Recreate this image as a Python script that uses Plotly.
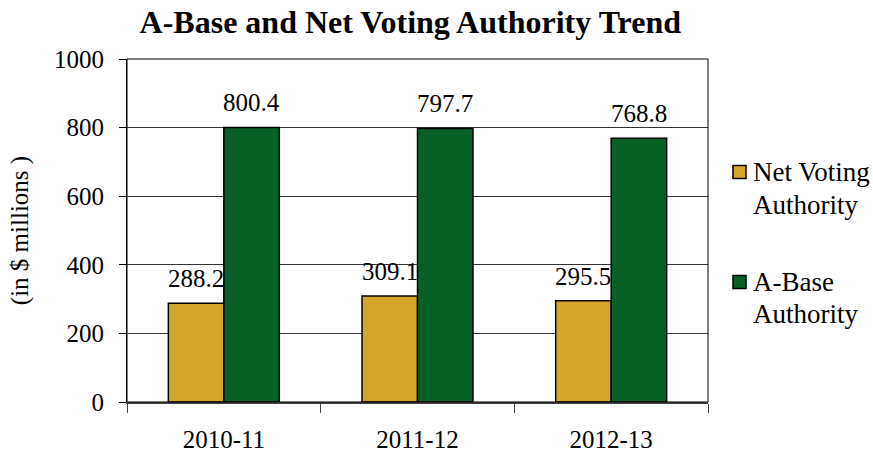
import plotly.graph_objects as go

years = ["2010-11", "2011-12", "2012-13"]
net_voting = [288.2, 309.1, 295.5]
a_base = [800.4, 797.7, 768.8]
y_ticks = [0, 200, 400, 600, 800, 1000]
series_names = [["Net Voting", "Authority"], ["A-Base", "Authority"]]

FONT = "Liberation Serif"
GOLD = "#D5A52A"
GREEN = "#076126"
COLORS = [GOLD, GREEN]

PLOT_L, PLOT_R, PLOT_T, PLOT_B = 127, 708, 59, 402
W, H = 873, 453


def px_x(px):
    return (px - PLOT_L) / (PLOT_R - PLOT_L)


def px_y(py):
    return (PLOT_B - py) / (PLOT_B - PLOT_T)


fig = go.Figure()
for vals, color, names in zip((net_voting, a_base), COLORS, series_names):
    fig.add_trace(go.Bar(
        x=years, y=vals, name=" ".join(names),
        marker=dict(color=color, line=dict(color="black", width=1.5)),
        showlegend=False,
    ))

# value labels above each bar
for i, yr in enumerate(years):
    for off, val in ((-0.143, net_voting[i]), (0.143, a_base[i])):
        fig.add_annotation(
            x=i + off, y=val, xref="x", yref="y",
            text=f"{val:.1f}", showarrow=False,
            yanchor="bottom", yshift=9,
            font=dict(family=FONT, size=25, color="black"),
        )

# legend: swatch plus two text lines per series
legend_rows = [(172, 205), (282, 314)]
for (y1, y2), color, names in zip(legend_rows, COLORS, series_names):
    fig.add_shape(type="rect", xref="paper", yref="paper",
                  x0=px_x(733), x1=px_x(746), y0=px_y(y1 - 6.5), y1=px_y(y1 + 6.5),
                  fillcolor=color, line=dict(color="black", width=1.5))
    for yy, line in zip((y1, y2), names):
        fig.add_annotation(x=px_x(751), y=px_y(yy), xref="paper", yref="paper",
                           text=line, showarrow=False, xanchor="left", yanchor="middle",
                           font=dict(family=FONT, size=27, color="black"))

# plot frame
fig.add_shape(type="rect", xref="paper", yref="paper", x0=0, y0=0, x1=1, y1=1,
              line=dict(color="black", width=1), layer="above")

fig.update_layout(
    width=W, height=H,
    margin=dict(l=PLOT_L, r=W - PLOT_R, t=PLOT_T, b=H - PLOT_B, autoexpand=False),
    paper_bgcolor="white", plot_bgcolor="white",
    font=dict(family=FONT, size=25, color="black"),
    title=dict(text="<b>A-Base and Net Voting Authority Trend</b>",
               x=0.47, xanchor="center", y=0.952, yanchor="middle",
               font=dict(family=FONT, size=32, color="black")),
    barmode="group", bargap=0.427, bargroupgap=0,
    showlegend=False,
    xaxis=dict(
        type="category", automargin=False,
        tickson="boundaries", ticks="outside", ticklen=9, tickcolor="#444",
        showline=True, linecolor="#444", linewidth=2,
        ticklabelstandoff=14,
        tickfont=dict(family=FONT, size=25),
        showgrid=False,
    ),
    yaxis=dict(
        range=[0, 1000], tickvals=y_ticks, automargin=False,
        ticks="outside", ticklen=7, tickcolor="black",
        showline=True, linecolor="black", linewidth=1,
        showgrid=True, gridcolor="#333", gridwidth=1,
        zeroline=False, ticklabelstandoff=10,
        tickfont=dict(family=FONT, size=25),
        title=dict(text="(in $ millions )", standoff=18,
                   font=dict(family=FONT, size=25)),
    ),
)

fig.write_html("out.html")
